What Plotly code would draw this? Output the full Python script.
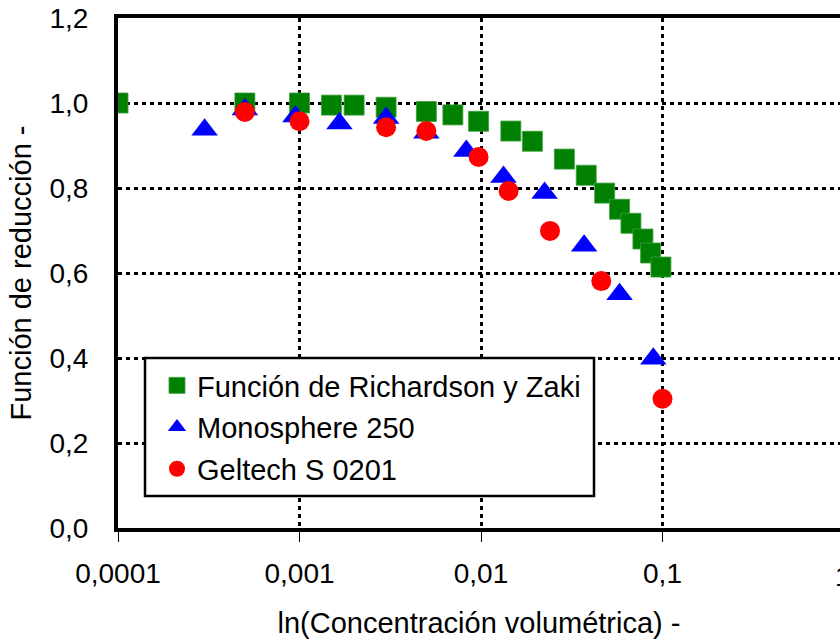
import plotly.graph_objects as go

# ---- data ----
rz_x = [0.0001, 0.0005, 0.001, 0.0015, 0.002, 0.003, 0.005, 0.007, 0.0097,
        0.0146, 0.0192, 0.0288, 0.038, 0.048, 0.058, 0.067, 0.078, 0.086, 0.098]
rz_y = [1.0, 1.0, 1.0, 0.995, 0.995, 0.99, 0.98, 0.972, 0.957,
        0.934, 0.91, 0.868, 0.83, 0.788, 0.75, 0.717, 0.68, 0.647, 0.614]

mono_x = [0.0003, 0.0005, 0.00095, 0.00166, 0.003, 0.005, 0.0083,
          0.0133, 0.0224, 0.037, 0.058, 0.089]
mono_y = [0.937, 0.985, 0.968, 0.952, 0.965, 0.93, 0.887,
          0.826, 0.788, 0.664, 0.55, 0.398]

gel_x = [0.0005, 0.001, 0.003, 0.005, 0.0097, 0.0142, 0.024, 0.046, 0.1]
gel_y = [0.979, 0.957, 0.943, 0.934, 0.873, 0.793, 0.699, 0.581, 0.304]

names = ["Función de Richardson y Zaki", "Monosphere 250", "Geltech S 0201"]

x_tickvals = [0.0001, 0.001, 0.01, 0.1]
x_ticktext = ["0,0001", "0,001", "0,01", "0,1"]
y_tickvals = [0.0, 0.2, 0.4, 0.6, 0.8, 1.0, 1.2]

x_title = "ln(Concentración volumétrica) -"
y_title = "Función de reducción -"

FONT = "Liberation Sans, Arial, sans-serif"
W, H = 840, 642
L, R, T, B = 118, 0, 18, 114
PW = W - L - R
PH = H - T - B
DEC = 181.5  # px per decade

fig = go.Figure()
fig.add_trace(go.Scatter(x=rz_x, y=rz_y, mode="markers", name=names[0],
                         legendgroup="a",
                         marker=dict(symbol="square", size=20, color="#008000",
                                     line=dict(width=1, color="rgba(60,160,60,0.8)"))))
fig.add_trace(go.Scatter(x=mono_x, y=mono_y, mode="markers", name=names[1],
                         legendgroup="b",
                         marker=dict(symbol="triangle-up", size=23, color="#0000FF",
                                     line=dict(width=0))))
fig.add_trace(go.Scatter(x=gel_x, y=gel_y, mode="markers", name=names[2],
                         legendgroup="c",
                         marker=dict(symbol="circle", size=20, color="#FF0000",
                                     line=dict(width=0))))

def px2paper_x(px):
    return (px - L) / PW

def py2paper_y(py):
    return (H - B - py) / PH

# legend box (white, black border)
fig.add_shape(type="rect", xref="paper", yref="paper",
              x0=px2paper_x(145), x1=px2paper_x(594),
              y0=py2paper_y(496), y1=py2paper_y(358),
              fillcolor="white", line=dict(color="black", width=2.5),
              layer="above")

# partially visible "1" tick label at right edge
fig.add_annotation(xref="paper", yref="paper",
                   x=px2paper_x(843), y=py2paper_y(576),
                   text="1", showarrow=False, xanchor="center", yanchor="middle",
                   font=dict(family=FONT, size=28, color="black"))

fig.update_layout(
    width=W, height=H,
    margin=dict(l=L, r=R, t=T, b=B, autoexpand=False),
    paper_bgcolor="white", plot_bgcolor="white",
    separators=",.",
    font=dict(family=FONT, size=28, color="black"),
    showlegend=True,
    legend=dict(
        x=px2paper_x(157), y=py2paper_y(360), xanchor="left", yanchor="top",
        bgcolor="rgba(0,0,0,0)", borderwidth=0,
        font=dict(family=FONT, size=29, color="black"),
        tracegroupgap=1, itemsizing="trace",
    ),
    xaxis=dict(
        type="log", range=[-4, -4 + PW / DEC],
        tickvals=x_tickvals, ticktext=x_ticktext,
        showgrid=True, gridcolor="black", gridwidth=2.5, griddash="4px,4px",
        showline=True, linecolor="black", linewidth=4, mirror=True,
        ticks="outside", ticklen=10, tickwidth=1, tickcolor="black",
        ticklabelstandoff=7,
        tickfont=dict(family=FONT, size=28),
        zeroline=False, automargin=False,
        title=dict(text=x_title, font=dict(family=FONT, size=29), standoff=26),
    ),
    yaxis=dict(
        range=[0, 1.2], tickvals=y_tickvals, tickformat=".1f",
        showgrid=True, gridcolor="black", gridwidth=2.5, griddash="4px,4px",
        showline=True, linecolor="black", linewidth=4, mirror=True,
        ticks="", ticklabelstandoff=20,
        tickfont=dict(family=FONT, size=28),
        zeroline=False, automargin=False,
        title=dict(text=y_title, font=dict(family=FONT, size=29), standoff=10),
    ),
)

fig.write_html("out.html")
